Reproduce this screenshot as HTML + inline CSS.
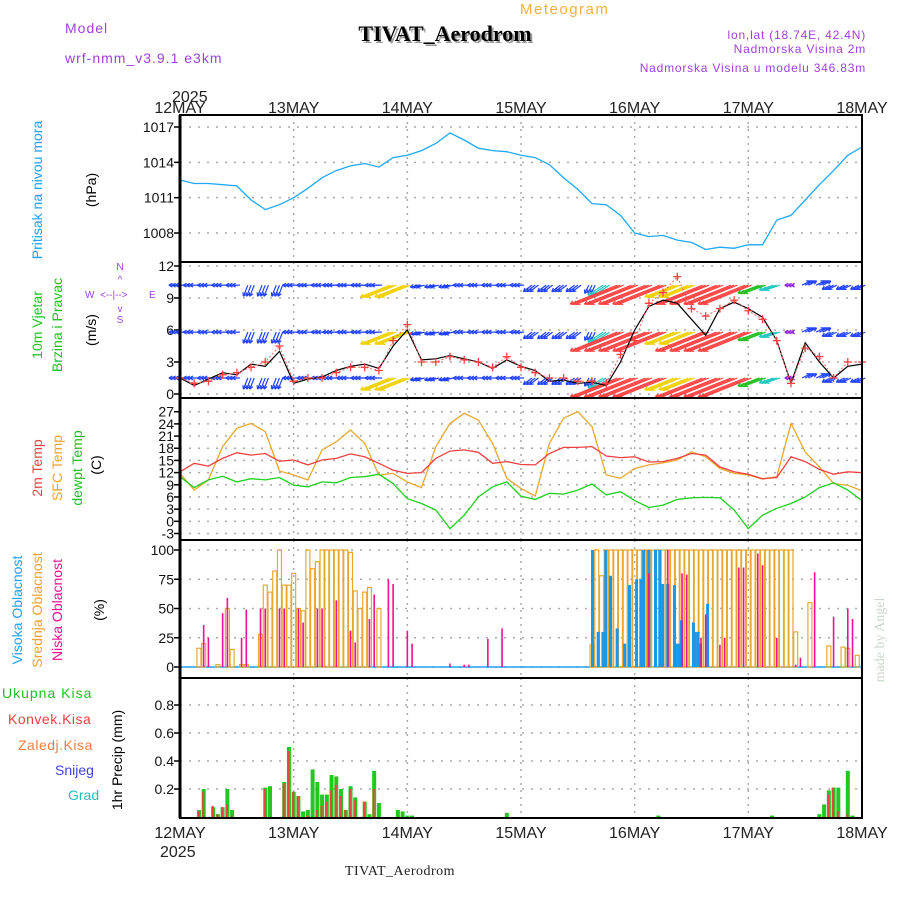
<!DOCTYPE html>
<html><head><meta charset="utf-8"><style>
body{margin:0;background:#fff;}
svg{display:block;font-family:"Liberation Sans",sans-serif;}
</style></head><body>
<svg id="c" width="900" height="900" xmlns="http://www.w3.org/2000/svg">
<rect width="900" height="900" fill="#fff"/>
<text x="65" y="33" font-size="14" fill="#a040e0" letter-spacing="1">Model</text>
<text x="65" y="63" font-size="14" fill="#a040e0" letter-spacing="1">wrf-nmm_v3.9.1 e3km</text>
<text x="520" y="14" font-size="15" fill="#f0b040" letter-spacing="1.5">Meteogram</text>
<text x="447" y="43" font-size="22" font-weight="bold" fill="#999" text-anchor="middle" font-family="Liberation Serif, serif">TIVAT_Aerodrom</text>
<text x="445" y="41" font-size="22" font-weight="bold" fill="#000" text-anchor="middle" font-family="Liberation Serif, serif">TIVAT_Aerodrom</text>
<text x="866" y="39" font-size="12" fill="#a040e0" text-anchor="end" letter-spacing="0.8">lon,lat (18.74E, 42.4N)</text>
<text x="866" y="53" font-size="12" fill="#a040e0" text-anchor="end" letter-spacing="0.8">Nadmorska Visina 2m</text>
<text x="866" y="72" font-size="12" fill="#a040e0" text-anchor="end" letter-spacing="0.8">Nadmorska Visina u modelu 346.83m</text>
<text x="172" y="102" font-size="16" fill="#222">2025</text>
<text x="160" y="857" font-size="16" fill="#222">2025</text>
<g id="labels" font-size="14">
<text transform="translate(42,190) rotate(-90)" text-anchor="middle" fill="#20a0f0">Pritisak na nivou mora</text>
<text transform="translate(96,190) rotate(-90)" text-anchor="middle" fill="#000">(hPa)</text>
<text transform="translate(42,325) rotate(-90)" text-anchor="middle" fill="#20c020">10m Vjetar</text>
<text transform="translate(62,325) rotate(-90)" text-anchor="middle" fill="#20c020">Brzina i Pravac</text>
<text transform="translate(96,330) rotate(-90)" text-anchor="middle" fill="#000">(m/s)</text>
<g font-size="10" fill="#a040e0">
<text x="120" y="270" text-anchor="middle">N</text><text x="120" y="283" text-anchor="middle">^</text>
<text x="85" y="298">W</text><text x="100" y="298">&lt;--|--&gt;</text><text x="149" y="298">E</text>
<text x="120" y="312" text-anchor="middle">v</text><text x="120" y="323" text-anchor="middle">S</text></g>
<text transform="translate(42,468) rotate(-90)" text-anchor="middle" fill="#f04040">2m Temp</text>
<text transform="translate(62,468) rotate(-90)" text-anchor="middle" fill="#f0a030">SFC Temp</text>
<text transform="translate(82,468) rotate(-90)" text-anchor="middle" fill="#20c020">dewpt Temp</text>
<text transform="translate(101,465) rotate(-90)" text-anchor="middle" fill="#000">(C)</text>
<text transform="translate(22,610) rotate(-90)" text-anchor="middle" fill="#20a0f0">Visoka Oblacnost</text>
<text transform="translate(42,610) rotate(-90)" text-anchor="middle" fill="#f0a030">Srednja Oblacnost</text>
<text transform="translate(62,610) rotate(-90)" text-anchor="middle" fill="#f01090">Niska Oblacnost</text>
<text transform="translate(104,610) rotate(-90)" text-anchor="middle" fill="#000">(%)</text>
<text x="2" y="698" fill="#20c020" letter-spacing="1">Ukupna Kisa</text>
<text x="8" y="724" fill="#f04040" letter-spacing="0.5">Konvek.Kisa</text>
<text x="18" y="750" fill="#f08040" letter-spacing="0.5">Zaledj.Kisa</text>
<text x="55" y="775" fill="#4040f0">Snijeg</text>
<text x="68" y="800" fill="#20c0c0">Grad</text>
<text transform="translate(122,760) rotate(-90)" text-anchor="middle" fill="#000">1hr Precip (mm)</text>
<text transform="translate(884,640) rotate(-90)" text-anchor="middle" fill="#c8d8c8" font-family="Liberation Serif, serif">made by Angel</text>
<text x="400" y="875" text-anchor="middle" fill="#222" font-family="Liberation Serif, serif" letter-spacing="0.5">TIVAT_Aerodrom</text>
</g>
</svg>
<script>
const days=["12MAY","13MAY","14MAY","15MAY","16MAY","17MAY","18MAY"];
const pressure=[1012.5,1012.2,1012.2,1012.1,1012.0,1010.8,1010.0,1010.4,1011.0,1011.8,1012.7,1013.3,1013.7,1013.9,1013.6,1014.4,1014.6,1015.0,1015.6,1016.5,1015.9,1015.2,1015.0,1014.9,1014.6,1014.4,1013.8,1012.7,1011.7,1010.5,1010.4,1009.5,1008.0,1007.7,1007.8,1007.4,1007.2,1006.6,1006.8,1006.7,1007.0,1007.0,1009.1,1009.5,1010.8,1012.1,1013.3,1014.6,1015.3];
const pTicks=[1017,1014,1011,1008];
const windSpeed=[1.5,1.0,1.2,1.8,2.0,2.5,3.0,4.5,1.2,1.5,1.5,2.0,2.5,2.5,2.2,5.0,6.5,3.0,3.0,3.5,3.2,3.0,2.5,3.5,2.5,2.0,1.5,1.5,1.2,1.2,1.0,3.7,5.0,8.5,9.5,11.0,8.0,7.3,8.0,8.8,7.8,7.0,5.0,1.0,4.3,3.5,1.5,3.0,3.0];
const windModel=[1.5,0.8,1.4,2.0,1.8,2.8,2.6,4.0,1.0,1.4,1.6,2.2,2.6,2.8,2.4,4.5,6.0,3.2,3.3,3.6,3.3,3.0,2.4,3.2,2.6,2.2,1.2,1.3,1.0,1.1,0.8,3.0,6.0,8.2,8.8,8.5,7.0,5.5,8.0,8.6,8.0,7.2,5.0,1.0,4.8,3.0,1.5,2.6,2.8];
const windU=[-2,-2,-2,-2,-2,-1,-1,-1,-2,-2,-2,-2.5,-2.5,-2.5,-2.5,-5,-5,-2,-2,-2,-2,-2,-2,-2,-2,-2,-2,-2,-2,-1,-3,-7,-7,-7,-7,-5,-5,-7,-7,-7,-7,-4,-3,-1,2,2,-2,-2,-2];
const windV=[0,0,0,0,0,-2.5,-2.5,-2.5,0,0,0,0,0,0,0,-2,-2,-0.5,-0.5,-0.5,0,0,0,0,0,-1.5,-1.5,-1.5,-1.5,-2,-2,-2.8,-2.8,-2.8,-2.8,-2,-2,-2.8,-2.8,-2.8,-2.8,-1.5,-1,0,1,1,-1,-1,-1];
const wTicks=[0,3,6,9,12];
const temp2m=[12.2,14.3,13.6,15.5,16.9,16.3,16.7,14.8,15.1,13.9,15.1,15.5,16.6,15.9,14.3,12.6,11.8,12.0,15.5,17.3,17.6,17.0,14.3,14.7,14.0,13.9,16.7,18.2,18.2,18.4,16.1,15.7,15.9,14.6,14.7,15.5,16.7,16.3,13.4,12.2,11.6,10.5,10.8,15.9,14.7,12.8,11.6,12.2,12.0];
const tempSfc=[11.8,7.7,10.2,18.4,22.9,24.1,22.1,12.4,11.4,10.2,17.6,19.6,22.5,19.2,11.4,11.8,9.7,8.3,18.4,24.1,26.6,24.9,19.2,10.6,8.1,6.2,19.2,25.4,27.0,23.3,11.4,10.6,13.0,13.9,14.4,15.1,17.1,15.9,13.0,11.8,11.4,10.4,11.0,24.1,17.1,13.4,9.3,8.9,7.5];
const dewpt=[11.0,8.3,10.2,11.1,9.7,10.5,10.2,10.8,8.9,8.5,9.7,9.5,10.8,11.0,11.6,9.3,5.6,4.4,2.8,-1.8,1.5,6.0,8.5,9.7,6.2,5.4,6.9,6.7,7.7,9.2,6.5,7.3,5.1,3.4,4.0,5.4,5.8,5.9,5.8,2.8,-1.8,1.5,3.2,4.4,6.0,8.3,9.5,7.7,5.1];
const tTicks=[27,24,21,18,15,12,9,6,3,0,-3];
const highHours=[87.1,88.3,89.3,89.9,90.9,92.3,93.9,94.9,96.4,97.3,97.9,99.0,100.4,101.3,101.9,103.0,104.4,104.8,105.4,105.9,108.4,108.8,109.4,109.9,111.4];
const highVals=[100,30,30,100,78,33,20,70,75,75,100,100,100,100,71,71,70,20,20,40,38,30,30,20,54];
const midHours=[4,5,8,10,11,13,14,17,18,19,20,21,22,23,24,25,26,27,28,29,30,31,32,33,34,35,36,37,38,39,40,42,87,88,89,90,91,92,93,94,95,96,97,98,99,100,101,102,103,104,105,106,107,108,109,110,111,112,113,114,115,116,117,118,119,120,121,122,123,124,125,126,127,128,129,130,133,137,140,141,143];
const midVals=[16,20,2,50,15,2,2,28,70,64,82,100,70,70,80,50,48,100,84,90,100,100,100,100,100,100,98,65,50,64,68,50,19,100,78,100,100,100,100,100,100,100,100,100,100,100,100,100,100,100,100,100,100,100,100,100,100,100,100,100,100,100,100,100,100,100,100,100,100,100,100,100,100,100,100,30,55,18,17,16,10];
const lowHours=[5,6,9,10,13,14,17,18,21,22,25,26,29,30,33,36,37,40,41,44,45,48,49,57,60,61,65,68,99,103,106,107,110,111,114,115,118,119,122,123,126,130,131,134,138,141,142];
const lowVals=[36,25,46,59,25,49,50,50,50,50,50,38,50,50,57,31,21,41,62,75,71,31,20,3,2,2,24,33,80,100,80,79,25,45,19,25,85,85,97,87,25,2,8,81,43,50,41];
const cTicks=[0,25,50,75,100];
const precipHours=[4,5,7,8,9,10,11,18,19,22,23,24,25,26,27,28,29,30,31,32,33,34,35,36,37,39,40,41,42,46,47,48,49,69,101,125,135,136,137,138,139,141,142];
const precipTotal=[0.05,0.2,0.07,0.02,0.07,0.2,0.05,0.21,0.22,0.25,0.5,0.18,0.15,0.04,0.05,0.34,0.25,0.16,0.16,0.3,0.29,0.2,0.05,0.22,0.14,0.11,0.02,0.33,0.1,0.05,0.04,0.01,0.01,0.03,0.01,0.01,0.02,0.09,0.19,0.21,0.21,0.33,0.01];
const precipConv=[0.04,0.18,0.08,0.02,0.07,0.09,0.01,0.2,0,0.24,0.47,0.18,0.15,0,0.01,0,0.05,0.08,0.11,0.19,0.23,0.15,0.05,0.2,0.12,0.11,0,0.2,0,0,0,0,0,0,0,0,0,0,0.16,0.21,0.04,0.02,0];
const rTicks=[0.2,0.4,0.6,0.8];

const svg=document.getElementById('c');
const NS='http://www.w3.org/2000/svg';
const X0=180,X1=862;
const xH=h=>X0+h*(X1-X0)/144;
const yP=p=>127+(1017-p)*11.78;
const yW=v=>394-v*10.67;
const yT=t=>411.7+(27-t)*4.06;
const yC=c=>667-c*1.17;
const yR=r=>817-r*140;
function el(tag,attrs,parent){const e=document.createElementNS(NS,tag);for(const k in attrs)e.setAttribute(k,attrs[k]);(parent||svg).appendChild(e);return e;}
const panels=[[115,262,pTicks,yP,'pressure'],[262,398,wTicks,yW,'wind'],[398,540,tTicks,yT,'temp'],[540,678,cTicks,yC,'cloud'],[678,818,rTicks,yR,'precip']];
const grid=el('g',{});


panels.forEach(([t,b,ticks,f,nm])=>{
  ticks.forEach(v=>{const y=f(v);
    const l=el('line',{x1:X0,x2:X1,y1:y,y2:y,stroke:'#aaa','stroke-dasharray':'2 7','stroke-width':1.5},grid);
    
    
    el('line',{x1:X0-6,x2:X0,y1:y,y2:y,stroke:'#000','stroke-width':1.5},grid);
    const tx=el('text',{x:X0-6,y:y+5,'font-size':14,'text-anchor':'end',fill:'#111'},grid);
    tx.textContent=String(v);
    
    
  });
  for(let d=1;d<6;d++){const x=xH(d*24);el('line',{x1:x,x2:x,y1:t,y2:b,stroke:'#aaa','stroke-dasharray':'2 5','stroke-width':1.5},grid);}
});
days.forEach((d,i)=>{const x=xH(i*24);
  const a=el('text',{x:x,y:113,'font-size':16,'text-anchor':'middle',fill:'#222'});a.textContent=d;
  
  
  const b=el('text',{x:x,y:838,'font-size':16,'text-anchor':'middle',fill:'#222'});b.textContent=d;
  
  
});
function line(arr,f,color,name,w){const pts=arr.map((v,i)=>xH(i*3).toFixed(1)+','+f(v).toFixed(1)).join(' ');
  const p=el('polyline',{points:pts,fill:'none',stroke:color,'stroke-width':w||1.3});
  
  return p;}
line(pressure,yP,'#20a8f8','pressure-line');
// wind arrows
const spdColor=s=>s<1.5?'#9020e0':s<2.7?'#2040ff':s<3.7?'#20c8c0':s<4.6?'#20c020':s<5.5?'#f0d000':s<6.5?'#ff9a00':s<7.6?'#ff4040':'#ff2090';
const wg=el('g',{});


[1.5,5.8,10.2].forEach(lvl=>{const y0=yW(lvl);
  windU.forEach((u,i)=>{const v=windV[i];const s=Math.hypot(u,v);const c=spdColor(s);
    const L=3*Math.pow(s,1.4);const dx=u/s*L,dy=-v/s*L;
    [-3.2,0,3.2].forEach(o=>{const x=xH(i*3)+o;const x2=x+dx,y2=y0+dy;
      el('line',{x1:x,y1:y0,x2:x2,y2:y2,stroke:c,'stroke-width':1.2},wg);
      const ang=Math.atan2(dy,dx);
      [0.5,-0.5].forEach(da=>el('line',{x1:x2,y1:y2,x2:x2-4*Math.cos(ang+da),y2:y2-4*Math.sin(ang+da),stroke:c,'stroke-width':1.2},wg));
    });
  });
});
line(windModel,yW,'#000','wind-speed-line',1.2);
const ws=line(windSpeed,yW,'#ff6060','wind-gust-line',1);ws.setAttribute('stroke-dasharray','2 2');
windSpeed.forEach((v,i)=>{const x=xH(i*3),y=yW(v);
  const m=el('path',{d:`M${x-4},${y}h8M${x},${y-4}v8`,stroke:'#ff4040','stroke-width':1.3});
  
  
});
line(tempSfc,yT,'#e8a830','sfc-temp-line');
line(temp2m,yT,'#f04040','temp-2m-line');
line(dewpt,yT,'#20d020','dewpt-line');
// clouds
const cl=el('line',{x1:X0,x2:X1,y1:yC(0),y2:yC(0),stroke:'#20a0f0','stroke-width':1.5});


midHours.forEach((h,i)=>{const x=xH(h),y=yC(midVals[i]);
  const r=el('rect',{x:x-2,y:y,width:4,height:yC(0)-y,fill:'none',stroke:'#e8a830','stroke-width':1.2});
  
  });
highHours.forEach((h,i)=>{const x=xH(h),y=yC(highVals[i]);
  const r=el('rect',{x:x-1.5,y:y,width:3,height:yC(0)-y,fill:'#1898e8'});
  
  });
lowHours.forEach((h,i)=>{const x=xH(h),y=yC(lowVals[i]);
  const r=el('rect',{x:x-0.8,y:y,width:1.6,height:yC(0)-y,fill:'#f01090'});
  
  });
// precip
precipHours.forEach((h,i)=>{const x=xH(h);
  const y=yR(precipTotal[i]);
  const r=el('rect',{x:x-2,y:y,width:4,height:yR(0)-y,fill:'#20c820'});
  
  
  if(precipConv[i]>0){const y2=yR(precipConv[i]);
    const c=el('rect',{x:x-1.5,y:y2,width:2,height:yR(0)-y2,fill:'#f04040'});
    
    }
});
// frames
panels.forEach(([t,b,,,nm])=>{const r=el('rect',{x:X0,y:t,width:X1-X0,height:b-t,fill:'none',stroke:'#000','stroke-width':2});
  
  });
el('line',{x1:X0,x2:X0,y1:115,y2:818,stroke:'#000','stroke-width':3});
</script>
</body></html>
